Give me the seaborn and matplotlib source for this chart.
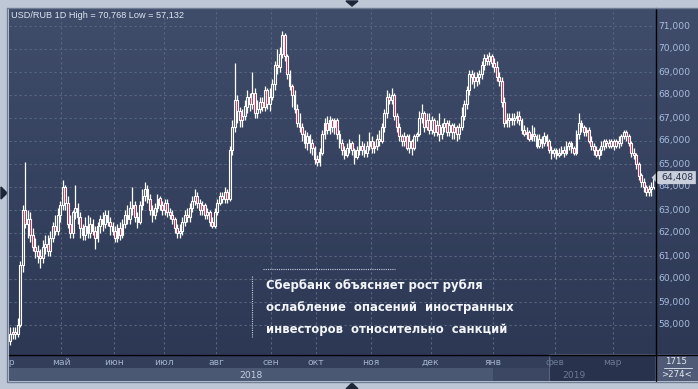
import numpy as np
import pandas as pd
import seaborn as sns
import matplotlib.pyplot as plt
from matplotlib.colors import LinearSegmentedColormap
from matplotlib.patches import Polygon
from matplotlib.lines import Line2D
from matplotlib.transforms import blended_transform_factory

# ---- data (USD/RUB daily) ----
months = ['апр', 'май', 'июн', 'июл', 'авг', 'сен', 'окт', 'ноя', 'дек', 'янв', 'фев', 'мар']
month_len = [21, 21, 20, 21, 22, 18, 22, 24, 25, 25, 23, 17]
years = ['2018', '2019']
first_open = 57.3
last_price = 64.408
y_ticks = list(range(58, 72))

close = [
    # апр
    57.6, 57.7, 57.6, 58.0, 60.6, 63.0, 62.4, 62.6, 61.9, 61.4, 61.2, 61.0, 60.9, 61.4, 61.5, 61.2, 61.8, 62.3, 62.1, 62.8, 63.2,
    # май
    64.0, 63.3, 62.4, 62.0, 62.9, 63.1, 62.7, 62.2, 61.9, 62.3, 62.0, 62.4, 62.1, 61.8, 62.3, 62.6, 62.4, 62.8, 62.5, 62.3, 62.1,
    # июн
    61.8, 62.2, 61.9, 62.4, 62.8, 62.6, 63.1, 63.2, 62.7, 62.5, 63.2, 63.6, 63.9, 63.5, 63.0, 62.8, 63.1, 63.5, 63.2, 63.0,
    # июл
    63.3, 62.9, 62.8, 62.6, 62.2, 62.0, 62.1, 62.5, 62.8, 62.7, 63.1, 63.4, 63.6, 63.3, 63.0, 63.2, 62.8, 62.9, 62.5, 62.3, 62.9,
    # авг
    63.3, 63.6, 63.5, 63.8, 63.5, 65.6, 66.6, 67.8, 67.3, 66.9, 67.1, 67.5, 67.9, 67.6, 68.1, 67.2, 67.4, 67.7, 67.5, 68.2, 67.6, 67.9,
    # сен
    68.5, 69.3, 69.2, 69.8, 70.6, 69.7, 68.9, 68.4, 68.0, 67.4, 66.8, 66.6, 66.3, 65.9, 66.2, 65.9, 65.7, 65.2,
    # окт
    65.1, 65.5, 66.3, 66.8, 66.5, 66.9, 66.6, 66.9, 66.3, 65.9, 65.6, 65.4, 65.7, 65.9, 65.6, 65.3, 65.6, 65.8, 65.6, 65.5, 65.8, 66.0,
    # ноя
    65.7, 65.8, 66.1, 66.0, 66.6, 67.2, 67.9, 67.8, 68.0, 67.1, 66.6, 66.2, 66.0, 66.2, 65.7, 66.0, 65.7, 66.2, 66.3, 67.0, 67.2, 66.6, 66.9, 66.5,
    # дек
    66.9, 66.4, 66.7, 66.3, 66.6, 66.8, 66.4, 66.7, 66.4, 66.6, 66.3, 66.6, 67.1, 67.6, 68.2, 68.9, 68.8, 68.6, 68.8, 68.9, 69.3, 69.6, 69.5, 69.7, 69.4,
    # янв
    69.2, 68.8, 68.6, 67.7, 66.8, 66.9, 67.0, 66.9, 67.0, 67.1, 66.9, 66.5, 66.3, 66.4, 66.1, 66.3, 66.2, 65.8, 66.1, 65.9, 66.2, 66.0, 65.6, 65.5, 65.6,
    # фев
    65.4, 65.5, 65.6, 65.5, 65.8, 65.9, 65.7, 65.5, 66.3, 66.8, 66.6, 66.4, 66.5, 66.0, 65.8, 65.6, 65.4, 65.6, 65.8, 66.0, 65.9, 65.8, 66.0,
    # мар
    65.8, 66.0, 65.9, 66.2, 66.4, 66.2, 65.9, 65.5, 65.4, 65.0, 64.5, 64.2, 64.0, 63.8, 63.9, 64.0, 64.408,
]
high = [
    57.9, 57.9, 57.9, 58.3, 60.8, 63.2, 65.1, 63.0, 62.9, 62.2, 61.8, 61.5, 61.3, 61.7, 61.9, 61.9, 62.1, 62.5, 62.8, 63.1, 63.4,
    64.3, 64.1, 63.6, 62.8, 63.0, 64.1, 63.3, 62.9, 62.4, 62.7, 62.8, 62.7, 62.6, 62.3, 62.5, 62.8, 62.9, 63.0, 63.0, 62.7, 62.5,
    62.3, 62.4, 62.5, 62.6, 63.0, 63.2, 63.4, 64.0, 63.4, 62.9, 63.4, 63.9, 64.2, 64.1, 63.7, 63.2, 63.3, 63.7, 63.6, 63.4,
    63.5, 63.5, 63.1, 63.0, 62.7, 62.4, 62.4, 62.7, 63.0, 63.1, 63.3, 63.6, 63.9, 63.8, 63.5, 63.4, 63.3, 63.1, 63.0, 62.7, 63.1,
    63.5, 63.8, 63.8, 64.0, 63.9, 65.8, 66.9, 69.4, 68.0, 67.5, 67.4, 67.8, 68.2, 68.1, 69.0, 68.3, 67.8, 67.9, 67.9, 68.4, 68.3, 68.3,
    68.7, 69.5, 70.0, 70.1, 70.768, 70.7, 69.8, 69.1, 68.5, 68.2, 67.6, 67.2, 66.8, 66.5, 66.4, 66.3, 66.1, 65.8,
    65.4, 65.7, 66.5, 67.0, 67.1, 67.1, 67.0, 67.0, 67.0, 66.5, 66.1, 65.8, 65.9, 66.1, 66.0, 65.7, 65.8, 66.3, 66.0, 65.9, 66.0, 66.4,
    66.2, 66.0, 66.3, 66.5, 66.8, 67.4, 68.2, 68.1, 68.3, 68.1, 67.2, 66.8, 66.3, 66.4, 66.3, 66.3, 66.1, 66.3, 66.4, 67.3, 67.6, 67.3, 67.2, 67.2,
    67.1, 67.0, 66.9, 67.2, 66.8, 67.0, 66.9, 66.9, 66.8, 66.8, 66.7, 66.8, 67.5, 67.8, 68.4, 69.1, 69.1, 69.0, 69.0, 69.1, 69.5, 69.8, 69.8, 69.85, 69.8,
    69.6, 69.5, 69.0, 68.8, 67.9, 67.2, 67.2, 67.2, 67.2, 67.3, 67.3, 67.0, 66.7, 66.6, 66.5, 66.7, 66.6, 66.3, 66.3, 66.2, 66.4, 66.3, 66.1, 65.8, 65.7,
    65.7, 65.7, 65.8, 65.8, 66.0, 66.0, 66.0, 65.8, 66.5, 67.2, 66.9, 66.7, 66.6, 66.6, 66.2, 65.9, 65.8, 65.7, 66.0, 66.1, 66.1, 66.1, 66.1,
    66.1, 66.1, 66.2, 66.3, 66.5, 66.5, 66.3, 66.0, 65.7, 65.5, 65.1, 64.6, 64.4, 64.1, 64.1, 64.2, 64.5,
]
low = [
    57.132, 57.4, 57.4, 57.5, 57.9, 60.3, 62.2, 61.8, 61.6, 61.2, 60.9, 60.7, 60.5, 60.7, 61.1, 61.0, 61.0, 61.6, 61.9, 61.9, 62.5,
    63.0, 63.0, 62.2, 61.8, 61.8, 62.6, 62.4, 61.8, 61.7, 61.7, 61.8, 61.8, 61.9, 61.3, 61.6, 62.0, 62.1, 62.2, 62.3, 61.9, 61.9,
    61.6, 61.6, 61.7, 61.8, 62.2, 62.4, 62.4, 62.8, 62.5, 62.2, 62.4, 63.0, 63.4, 63.3, 62.8, 62.5, 62.6, 62.9, 63.0, 62.8,
    62.8, 62.7, 62.6, 62.4, 62.0, 61.8, 61.8, 61.9, 62.3, 62.5, 62.5, 62.9, 63.2, 63.1, 62.8, 62.8, 62.6, 62.6, 62.3, 62.2, 62.2,
    62.8, 63.2, 63.3, 63.3, 63.3, 63.4, 65.4, 66.4, 66.8, 66.6, 66.6, 66.9, 67.2, 67.3, 67.4, 67.0, 67.0, 67.2, 67.3, 67.3, 67.4, 67.3,
    67.8, 68.2, 68.9, 69.0, 69.6, 69.5, 68.7, 68.2, 67.5, 67.2, 66.6, 66.4, 66.0, 65.7, 65.6, 65.5, 65.4, 65.0,
    64.9, 64.9, 65.4, 66.1, 66.3, 66.3, 66.4, 66.3, 66.1, 65.7, 65.4, 65.2, 65.3, 65.5, 65.4, 65.0, 65.2, 65.4, 65.4, 65.3, 65.3, 65.6,
    65.5, 65.5, 65.6, 65.8, 65.9, 66.4, 67.0, 67.6, 67.6, 66.9, 66.4, 66.0, 65.8, 65.8, 65.6, 65.5, 65.4, 65.6, 66.0, 66.2, 66.8, 66.4, 66.5, 66.3,
    66.3, 66.2, 66.2, 66.0, 66.1, 66.4, 66.2, 66.2, 66.1, 66.1, 66.0, 66.1, 66.5, 66.9, 67.4, 68.0, 68.5, 68.3, 68.4, 68.5, 68.7, 69.1, 69.3, 69.3, 69.2,
    69.0, 68.6, 68.4, 67.5, 66.6, 66.6, 66.6, 66.7, 66.7, 66.8, 66.7, 66.3, 66.2, 66.1, 66.0, 66.0, 66.0, 65.7, 65.7, 65.7, 65.8, 65.8, 65.5, 65.2, 65.3,
    65.2, 65.3, 65.4, 65.3, 65.4, 65.6, 65.5, 65.4, 65.4, 66.1, 66.4, 66.2, 66.2, 65.9, 65.6, 65.4, 65.3, 65.2, 65.4, 65.6, 65.7, 65.7, 65.7,
    65.6, 65.7, 65.7, 65.8, 66.1, 66.0, 65.8, 65.3, 65.2, 64.8, 64.3, 64.0, 63.8, 63.6, 63.6, 63.6, 63.9,
]

annotation = ["Сбербанк объясняет рост рубля",
              "ослабление  опасений  иностранных",
              "инвесторов  относительно  санкций"]

# ---- frame ----
df = pd.DataFrame({"close": close, "high": high, "low": low})
df["open"] = [first_open] + close[:-1]
df["month"] = np.repeat(months, month_len)
df["i"] = np.arange(len(df))
df["up"] = df["close"] >= df["open"]
starts = np.cumsum([0] + month_len[:-1])

sns.set_style("dark")
plt.rcParams["font.family"] = ["DejaVu Sans"]

W, H = 698, 389
fig = plt.figure(figsize=(W / 100, H / 100), dpi=100)
fig.patch.set_facecolor("#bdc7d6")


def box(x0, y0, x1, y1):
    return [x0 / W, 1 - y1 / H, (x1 - x0) / W, (y1 - y0) / H]


ax = fig.add_axes(box(9, 8, 655, 354))
ax_r = fig.add_axes(box(655, 8, 698, 354))
ax_b = fig.add_axes(box(9, 354, 655, 381))
ax_c = fig.add_axes(box(655, 354, 698, 381))

xlim = (-0.5, len(df) - 0.5)
top = 71 + 18 / 23
ylim = (top - 346 / 23, top)

grad = LinearSegmentedColormap.from_list("bg", ["#3f4c6a", "#2c3854"])
for a in (ax, ax_r):
    a.imshow(np.linspace(0, 1, 256).reshape(-1, 1), cmap=grad, aspect="auto",
             extent=[0, 1, 0, 1], transform=a.transAxes, zorder=0)
    a.set_ylim(ylim)
    a.set_xticks([])
    a.set_yticks([])
    for s in a.spines.values():
        s.set_visible(False)
ax.set_xlim(xlim)
ax_r.set_xlim(0, 1)

# grid
for v in y_ticks:
    ax.axhline(v, color="#58667f", lw=0.8, ls=(0, (2, 2.5)), zorder=1)
for s in starts[1:]:
    ax.axvline(s - 0.5, color="#58667f", lw=0.8, ls=(0, (2, 2.5)), zorder=1)

# candles
ax.vlines(df["i"], np.minimum(df["low"], df[["open", "close"]].min(axis=1)),
          np.maximum(df["high"], df[["open", "close"]].max(axis=1)),
          color="white", lw=0.9, zorder=2)
body_lo = df[["open", "close"]].min(axis=1)
body_h = (df["close"] - df["open"]).abs().clip(lower=0.04)
ax.bar(df["i"], body_h, bottom=body_lo, width=0.72,
       color=np.where(df["up"], "#4a5670", "#e3103c"),
       edgecolor="white", linewidth=0.8, zorder=3)

ax.text(2 / 646, 1 - 7 / 346,
        f"USD/RUB 1D High = {max(high):.3f} Low = {min(low):.3f}".replace(".", ","),
        transform=ax.transAxes, color="#dfe6f2", fontsize=6.6, va="center",
        family=["Liberation Sans"], zorder=5)

# annotation
for k, line in enumerate(annotation):
    ax.text((266 - 9) / 646, (354 - (286 + 22 * k)) / 346, line, transform=ax.transAxes,
            color="#f4f6fa", fontsize=8.4, fontweight="bold", va="center", ha="left", zorder=5)
ax.plot([(263 - 9) / 646, (395 - 9) / 646], [(354 - 269) / 346] * 2, transform=ax.transAxes,
        color="#c8cfdc", lw=0.8, ls=(0, (1, 1)), zorder=5)
ax.plot([(252 - 9) / 646] * 2, [(354 - 276) / 346, (354 - 337) / 346], transform=ax.transAxes,
        color="#c8cfdc", lw=0.8, ls=(0, (1, 1)), zorder=5)

# right price axis
for v in y_ticks:
    ax_r.text(0.07, v, f"{v * 1000:,}", color="#a9bddd", fontsize=6.6, va="center", ha="left")
tr = blended_transform_factory(ax_r.transAxes, ax_r.transData)
hh = 6.5 / 23
ax_r.add_patch(Polygon([(-0.08, last_price), (0.07, last_price + hh), (0.95, last_price + hh),
                        (0.95, last_price - hh), (0.07, last_price - hh)],
                       closed=True, transform=tr, facecolor="#c9d0db", edgecolor="none",
                       clip_on=False, zorder=6))
ax_r.text(0.14, last_price, f"{last_price:.3f}".replace(".", ","), transform=tr,
          color="#27304a", fontsize=6.6, va="center", ha="left", zorder=7)

# bottom time axis
ax_b.set_xlim(xlim)
ax_b.set_ylim(0, 1)
ax_b.set_xticks([])
ax_b.set_yticks([])
for s in ax_b.spines.values():
    s.set_visible(False)
ax_b.set_facecolor("#323e5a")
jan_x = starts[months.index("янв")] - 0.5
feb_x = starts[months.index("фев")] - 0.5
ax_b.axvspan(xlim[0], jan_x, 0, 0.48, color="#4b5874", lw=0)
ax_b.axvspan(jan_x, xlim[1], 0, 0.48, color="#3b4763", lw=0)
ax_b.axvspan(feb_x - 2.4, xlim[1], 0, 1, facecolor="#29324c", edgecolor="#56627c", lw=0.8)

label_x = [-1.5] + [s - 0.5 for s in starts[1:]]
for m, x in zip(months, label_x):
    dim = x > feb_x - 3
    ax_b.text(x, 0.68, m, color="#6c7a95" if dim else "#a3b3cd", fontsize=6.6,
              ha="center", va="center", clip_on=True)
ax_b.text((xlim[0] + jan_x) / 2, 0.22, years[0], color="#c3cee0", fontsize=6.6,
          ha="center", va="center")
ax_b.text((jan_x + xlim[1]) / 2, 0.22, years[1], color="#6c7a95", fontsize=6.6,
          ha="center", va="center")

ax_c.set_facecolor("#4e5a76")
ax_c.set_xticks([])
ax_c.set_yticks([])
for s in ax_c.spines.values():
    s.set_visible(False)
ax_c.text(0.5, 0.72, "1715", color="#e6ebf2", fontsize=6.2, ha="center", va="center",
          transform=ax_c.transAxes)
ax_c.plot([0.22, 0.86], [0.48, 0.48], color="#d0d7e2", lw=0.7, transform=ax_c.transAxes)
ax_c.text(0.5, 0.25, ">274<", color="#e6ebf2", fontsize=6.2, ha="center", va="center",
          transform=ax_c.transAxes)

# frame lines and markers
fig.add_artist(Line2D([9 / W, 1], [1 - 354.5 / H] * 2, color="black", lw=1))
fig.add_artist(Line2D([655.5 / W] * 2, [1 - 8 / H, 1 - 381 / H], color="black", lw=1))
fig.add_artist(Line2D([7.5 / W, 1], [1 - 7.5 / H] * 2, color="#6f7c93", lw=1))
fig.add_artist(Line2D([7.5 / W] * 2, [1 - 7.5 / H, 1 - 381 / H], color="#6f7c93", lw=1))
fig.add_artist(Line2D([7.5 / W, 1], [1 - 381.5 / H] * 2, color="#6f7c93", lw=1))
for pts in ([(346, 1), (358, 1), (352, 6)], [(346, 389), (358, 389), (352, 383)],
            [(1, 187), (1, 199), (7, 193)]):
    fig.add_artist(Polygon([(x / W, 1 - y / H) for x, y in pts], closed=True,
                           transform=fig.transFigure, color="#1d2638"))

fig.savefig("out.png", dpi=100, facecolor=fig.get_facecolor())
